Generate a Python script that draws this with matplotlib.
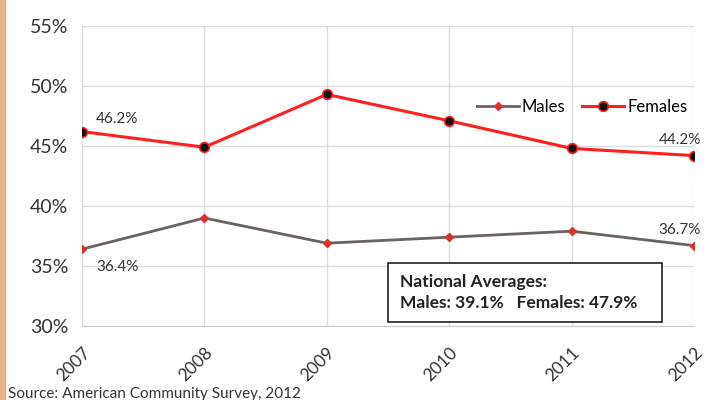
import matplotlib.pyplot as plt
from matplotlib.patches import Rectangle

years = [2007, 2008, 2009, 2010, 2011, 2012]
males = [36.4, 39.0, 36.9, 37.4, 37.9, 36.7]
females = [46.2, 44.9, 49.3, 47.1, 44.8, 44.2]
yticks = [30, 35, 40, 45, 50, 55]

plt.rcParams['font.family'] = ['Lato', 'DejaVu Sans']

fig = plt.figure(figsize=(7.08, 4.0), dpi=100)
ax = fig.add_axes([0.1158, 0.185, 0.8644, 0.75])

# orange strip on the left edge
fig.patches.append(Rectangle((0, 0), 0.007, 1, transform=fig.transFigure,
                             color='#E8B08A', zorder=0))

ax.plot(years, males, color='#6B6262', lw=2, marker='D', markersize=4.5,
        markerfacecolor='#D8342A', markeredgecolor='#D8342A', label='Males')
ax.plot(years, females, color='#FF1F1F', lw=2.2, marker='o', markersize=7,
        markerfacecolor='#111111', markeredgecolor='#FF1F1F', markeredgewidth=1.2,
        label='Females')

ax.set_xlim(2007, 2012)
ax.set_ylim(30, 55)
ax.set_yticks(yticks)
ax.set_yticklabels([f'{v}%' for v in yticks], fontsize=14, color='#333333')
ax.set_xticks(years)
ax.set_xticklabels([str(y) for y in years], rotation=45, fontsize=12.5,
                   color='#333333', ha='right', rotation_mode='anchor')
ax.tick_params(length=0)
ax.tick_params(axis='y', pad=10)
ax.tick_params(axis='x', pad=13)
ax.grid(True, color='#DDDDDD', lw=1)
for s in ['top', 'right', 'left']:
    ax.spines[s].set_visible(False)
ax.spines['bottom'].set_color('#CCCCCC')
ax.set_axisbelow(True)

# data labels on the end points
ax.annotate(f'{females[0]}%', (years[0], females[0]), xytext=(10, 6),
            textcoords='offset points', fontsize=11, color='#333333')
ax.annotate(f'{females[-1]}%', (years[-1], females[-1]), xytext=(5, 8),
            textcoords='offset points', fontsize=11, color='#333333', ha='right')
ax.annotate(f'{males[0]}%', (years[0], males[0]), xytext=(10, -16),
            textcoords='offset points', fontsize=11, color='#333333')
ax.annotate(f'{males[-1]}%', (years[-1], males[-1]), xytext=(5, 8),
            textcoords='offset points', fontsize=11, color='#333333', ha='right')

ax.legend(loc='upper right', bbox_to_anchor=(1.0, 0.78), ncol=2, frameon=False,
          fontsize=12, handlelength=2.5, columnspacing=1.0, handletextpad=0.2,
          borderaxespad=0)

# national averages box
ax.add_patch(Rectangle((0.5, 0.013), 0.448, 0.197, transform=ax.transAxes,
                       facecolor='white', edgecolor='#222222', lw=1.2, zorder=5))
ax.text(0.52, 0.113, 'National Averages:\nMales: 39.1%   Females: 47.9%',
        transform=ax.transAxes, fontsize=12.5, fontweight='bold', color='#222222',
        linespacing=1.4, va='center', ha='left', zorder=6)

fig.text(0.011, 0.005, 'Source: American Community Survey, 2012', fontsize=11,
         color='#333333')

fig.savefig('out.png', dpi=100)
